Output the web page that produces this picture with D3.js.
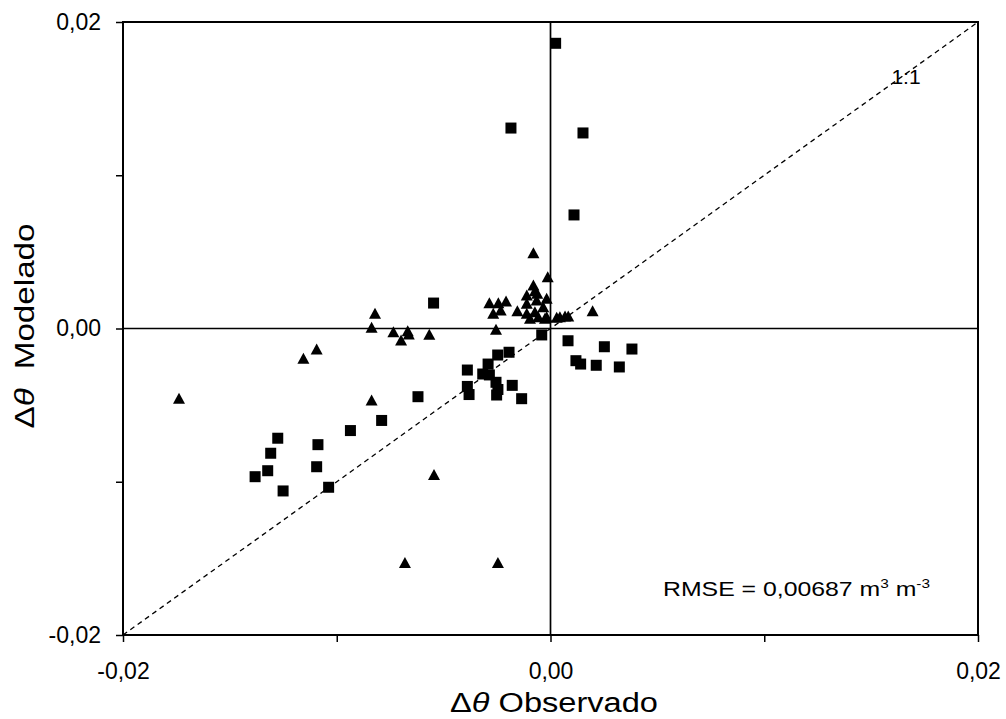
<!DOCTYPE html>
<html>
<head>
<meta charset="utf-8">
<script src="https://cdn.jsdelivr.net/npm/d3@7"></script>
<style>
  body { margin: 0; background: #fff; }
  svg { display: block; font-family: "Liberation Sans", Arial, sans-serif; }
</style>
</head>
<body>
<script>
// observed vs modelled change in water content (m3 m-3)
var squareObs = [0.00024, -0.00185, 0.00152, 0.00110, -0.00547, -0.00041, 0.00082, 0.00252, 0.00381,
  0.00119, 0.00141, 0.00214, 0.00322, -0.00194, -0.00247, -0.00292, -0.00389, -0.00317, -0.00286,
  -0.00389, -0.00255, -0.00179, -0.00381, -0.00252, -0.00246, -0.00135, -0.0062, -0.0079, -0.00936,
  -0.01276, -0.01088, -0.01309, -0.01094, -0.01323, -0.01382, -0.01251, -0.01038];
var squareMod = [0.01861, 0.01308, 0.01276, 0.00741, 0.00166, -0.00042, -0.0008, -0.00119, -0.00134,
  -0.0021, -0.00232, -0.0024, -0.00251, -0.00155, -0.00173, -0.00232, -0.00271, -0.00297, -0.00303,
  -0.00378, -0.00351, -0.00371, -0.00431, -0.00434, -0.00398, -0.00458, -0.00445, -0.006, -0.00666,
  -0.00716, -0.00758, -0.00814, -0.00902, -0.00928, -0.00967, -0.0106, -0.01036];

var triangleObs = [-0.01738, -0.01156, -0.01094, -0.00821, -0.00837, -0.00735, -0.00668, -0.00663,
  -0.00699, -0.00567, -0.00837, -0.00545, -0.00681, -0.00246, -0.0008, -0.00286, -0.00244, -0.00208,
  -0.00233, -0.00268, -0.00255, -0.00155, -0.00013, -0.0008, -0.00073, -0.00062, -0.00111, -0.00018,
  -0.00111, -0.00065, -0.00034, -0.00111, -0.00073, -0.00057, -0.00018, -0.00096, -0.00026, 0.00029,
  0.00044, 0.00068, 0.00083, 0.00197];
var triangleMod = [-0.00455, -0.00194, -0.00134, 0.00099, 0.00008, -0.00021, -0.00014, -0.00036,
  -0.00075, -0.00038, -0.00467, -0.00953, -0.01527, -0.01527, 0.00495, 0.00168, 0.00168, 0.00179,
  0.00121, 0.00099, -0.00005, 0.00116, 0.00338, 0.00284, 0.00247, 0.0023, 0.00219, 0.00197,
  0.00164, 0.00186, 0.00142, 0.00099, 0.0011, 0.00077, 0.00077, 0.00067, 0.00067, 0.00073,
  0.00077, 0.00082, 0.00082, 0.00116];

var axisTicks = [-0.02, -0.01, 0, 0.01, 0.02];
var labelledTicks = [-0.02, 0, 0.02];

var margin = { top: 22, right: 28, bottom: 84, left: 123 },
  width = 1006 - margin.left - margin.right,
  height = 719 - margin.top - margin.bottom;

var svg = d3
  .select("body")
  .append("svg")
  .attr("width", width + margin.left + margin.right)
  .attr("height", height + margin.top + margin.bottom)
  .append("g")
  .attr("transform", "translate(" + margin.left + "," + margin.top + ")");

var x = d3.scaleLinear().domain([-0.02, 0.02]).range([0, width]);
var y = d3.scaleLinear().domain([-0.02, 0.02]).range([height, 0]);

var locale = d3.formatLocale({ decimal: ",", thousands: ".", grouping: [3], currency: ["", ""], minus: "-" });
var fmt = locale.format(".2f");
var tickFmt = function (d) {
  return labelledTicks.some(function (t) { return Math.abs(t - d) < 1e-9; }) ? fmt(d) : "";
};

// axes (ticks only, frame drawn below)
var yAxis = svg.append("g")
  .call(d3.axisLeft(y).tickValues(axisTicks).tickSize(7).tickSizeOuter(0).tickPadding(15).tickFormat(tickFmt));
var xAxis = svg.append("g")
  .attr("transform", "translate(0," + height + ")")
  .call(d3.axisBottom(x).tickValues(axisTicks).tickSize(7).tickSizeOuter(0).tickPadding(21).tickFormat(tickFmt));

[yAxis, xAxis].forEach(function (a) {
  a.select(".domain").remove();
  a.selectAll("line").attr("stroke", "#000").attr("stroke-width", 1.5);
  a.selectAll("text").attr("fill", "#000").style("font-size", "23px")
    .style("font-family", "'Liberation Sans', Arial, sans-serif");
});

// zero lines
svg.append("line")
  .attr("x1", 0).attr("x2", width)
  .attr("y1", y(0)).attr("y2", y(0))
  .attr("stroke", "#000").attr("stroke-width", 1.7);
svg.append("line")
  .attr("x1", x(0)).attr("x2", x(0))
  .attr("y1", 0).attr("y2", height)
  .attr("stroke", "#000").attr("stroke-width", 1.7);

// 1:1 line
svg.append("line")
  .attr("x1", x(-0.02)).attr("y1", y(-0.02))
  .attr("x2", x(0.02)).attr("y2", y(0.02))
  .attr("stroke", "#000").attr("stroke-width", 1.3)
  .attr("stroke-dasharray", "5,4");

// frame
svg.append("rect")
  .attr("width", width).attr("height", height)
  .attr("fill", "none").attr("stroke", "#000").attr("stroke-width", 2);

var squares = squareObs.map(function (v, i) { return { obs: v, mod: squareMod[i] }; });
var triangles = triangleObs.map(function (v, i) { return { obs: v, mod: triangleMod[i] }; });

svg.selectAll(".sq")
  .data(squares)
  .enter()
  .append("rect")
  .attr("class", "sq")
  .attr("x", function (d) { return x(d.obs) - 5.5; })
  .attr("y", function (d) { return y(d.mod) - 5.5; })
  .attr("width", 11)
  .attr("height", 11)
  .attr("fill", "#000");

svg.selectAll(".tri")
  .data(triangles)
  .enter()
  .append("path")
  .attr("class", "tri")
  .attr("d", "M0,-5.5L6,5.5L-6,5.5Z")
  .attr("transform", function (d) { return "translate(" + x(d.obs) + "," + y(d.mod) + ")"; })
  .attr("fill", "#000");

// annotations
svg.append("text")
  .attr("x", 783)
  .attr("y", 62)
  .attr("text-anchor", "middle")
  .style("font-size", "21px")
  .text("1:1");

var rmse = svg.append("text")
  .attr("x", 540)
  .attr("y", 574)
  .attr("textLength", 267)
  .attr("lengthAdjust", "spacingAndGlyphs")
  .style("font-size", "21px");
rmse.append("tspan").text("RMSE = 0,00687 m");
rmse.append("tspan").attr("dy", -8).style("font-size", "13px").text("3");
rmse.append("tspan").attr("dy", 8).text(" m");
rmse.append("tspan").attr("dy", -8).style("font-size", "13px").text("-3");

// axis titles
var xt = svg.append("text")
  .attr("x", 431 - margin.left + 123)
  .attr("y", height + 77)
  .attr("text-anchor", "middle")
  .attr("textLength", 208)
  .attr("lengthAdjust", "spacingAndGlyphs")
  .style("font-size", "27px");
xt.append("tspan").text("Δ");
xt.append("tspan").style("font-style", "italic").text("θ");
xt.append("tspan").text(" Observado");

var yt = svg.append("text")
  .attr("transform", "rotate(-90)")
  .attr("x", -(326 - margin.top))
  .attr("y", 34 - margin.left)
  .attr("text-anchor", "middle")
  .attr("textLength", 205)
  .attr("lengthAdjust", "spacingAndGlyphs")
  .style("font-size", "27px");
yt.append("tspan").text("Δ");
yt.append("tspan").style("font-style", "italic").text("θ");
yt.append("tspan").attr("dx", 8).text(" Modelado");
</script>
</body>
</html>
